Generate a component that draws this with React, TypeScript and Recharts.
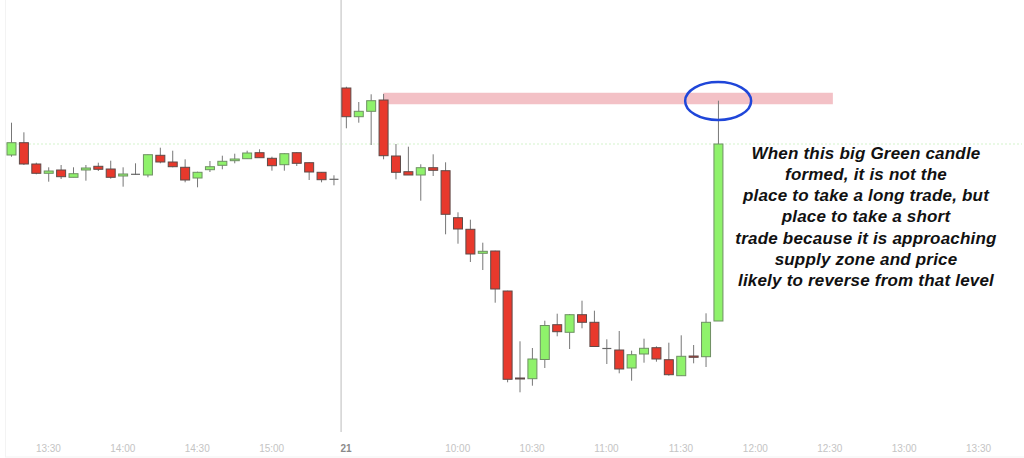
import React from 'react';
import {
  ComposedChart,
  Bar,
  XAxis,
  YAxis,
  ReferenceLine,
  ReferenceArea,
  ReferenceDot,
} from 'recharts';

// 5-minute candles: day 1 (13:15–15:25) then day 21 (09:15–11:45)
const times = [
  '13:15', '13:20', '13:25', '13:30', '13:35', '13:40', '13:45', '13:50', '13:55', '14:00',
  '14:05', '14:10', '14:15', '14:20', '14:25', '14:30', '14:35', '14:40', '14:45', '14:50',
  '14:55', '15:00', '15:05', '15:10', '15:15', '15:20', '15:25',
  '09:15', '09:20', '09:25', '09:30', '09:35', '09:40', '09:45', '09:50', '09:55', '10:00',
  '10:05', '10:10', '10:15', '10:20', '10:25', '10:30', '10:35', '10:40', '10:45', '10:50',
  '10:55', '11:00', '11:05', '11:10', '11:15', '11:20', '11:25', '11:30', '11:35', '11:40',
  '11:45',
];

const opens = [
  277, 289.3, 268, 258.7, 262, 254.7, 262, 265.7, 263, 256,
  257.7, 257, 276.7, 270, 264.7, 254, 262.3, 266.7, 271.3, 273.3,
  279.3, 273.7, 267.3, 279.3, 269.3, 259.7, 252.7,
  344, 315.3, 320.7, 332, 276, 260.3, 257, 264.3, 261.3, 214.3,
  202.7, 178.7, 181, 141, 54, 53.3, 72.5, 107.3, 99.7, 117.3,
  109.7, 83.5, 82, 64, 78, 84.3, 72.3, 56.3, 76, 75.3,
  111,
];
const highs = [
  309.3, 299.7, 269.3, 264.7, 267, 264.7, 267, 269.3, 271.3, 264.7,
  268.7, 277.5, 284.3, 281.3, 272.7, 260.3, 271, 276.3, 278.3, 281.3,
  282.7, 275.3, 278.7, 279.7, 269.7, 260, 256.7,
  345.3, 330, 337.7, 338, 288, 285.3, 267.7, 277.7, 269.7, 219.7,
  212.3, 189.3, 181.3, 141.3, 90.7, 84, 111.3, 118.3, 118, 131.3,
  121.3, 92.7, 101, 81.3, 93.3, 85.7, 89.3, 96.7, 87, 118.7,
  331.3,
];
const lows = [
  275.3, 267, 257.7, 250.3, 253, 254.7, 251.3, 261, 253.3, 245.3,
  257, 254.7, 268.7, 264.7, 249.7, 244.7, 260, 262.7, 268.7, 273.3,
  274.3, 261.3, 261.3, 266, 252, 249.7, 246.7,
  303.7, 309.3, 287, 272.7, 252.7, 257, 231.3, 256, 197.7, 188.3,
  170, 162, 129.3, 49.7, 39.7, 46.3, 64, 95.7, 83, 103.7,
  85.3, 68, 58.7, 51.3, 69.3, 70.3, 56.3, 56.3, 68.7, 65,
  111,
];
const closes = [
  289.3, 268, 258.7, 261, 255.3, 258.3, 264, 262.7, 254.7, 258,
  257.7, 277.3, 270, 265.3, 252, 259.7, 265.3, 270.7, 273, 279,
  274.3, 266.3, 278.3, 268.7, 260, 252.3, 252.7,
  315.3, 320.7, 331.3, 276.3, 259.7, 257, 264.3, 261.7, 217.7, 203,
  178, 180.7, 143, 52.7, 53, 73, 106.5, 100.3, 117.3, 109.7,
  85.5, 83.5, 63, 77.3, 83.7, 73, 57.3, 75.7, 74.7, 109.7,
  288,
];

// x-axis ticks (slot index -> label)
const tickSlots = [3, 9, 15, 21, 27, 36, 42, 48, 54, 60, 66, 72, 78];
const tickLabels = ['13:30', '14:00', '14:30', '15:00', '21', '10:00', '10:30', '11:00', '11:30', '12:00', '12:30', '13:00', '13:30'];
const totalSlots = 82;
const dayBreak = 26.6;

// supply zone & annotation
const zoneFrom = 30;
const zoneTo = 66.25;
const zoneLow = 327.7;
const zoneHigh = 339.3;
const circledCandle = 57;
const circledPrice = 331;

const noteLines = [
  'When this big Green candle',
  'formed, it is not the',
  'place to take a long trade, but',
  'place to take a short',
  'trade because it is approaching',
  'supply zone and price',
  'likely to reverse from that level',
];

const data = times.map((t, i) => ({
  i,
  time: t,
  open: opens[i],
  high: highs[i],
  low: lows[i],
  close: closes[i],
  range: [lows[i], highs[i]],
}));

const lastClose = closes[closes.length - 1];

const RED = '#e8392c';
const GREEN = '#8ff26b';
const W = 1024;
const H = 458;
const MARGIN = { top: 0, right: 2, bottom: 0, left: 5 };

const Candle = (props: any) => {
  const { x, y, width, height, payload } = props;
  if (payload == null || x == null) return null;
  const { open, close, high, low } = payload;
  const top = Math.min(y, y + height);
  const h = Math.abs(height);
  const k = high - low === 0 ? 0 : h / (high - low);
  const yO = top + (high - open) * k;
  const yC = top + (high - close) * k;
  const cx = x + width / 2;
  const bTop = Math.min(yO, yC);
  const bH = Math.abs(yO - yC);
  const up = close > open;
  const flat = open === close;
  const fill = up ? GREEN : RED;
  const stroke = up ? '#6f8f64' : '#5e4a48';
  return (
    <g>
      <line x1={cx} x2={cx} y1={top} y2={top + h} stroke="#777" strokeWidth={1} />
      {flat ? (
        <line x1={x} x2={x + width} y1={yO} y2={yO} stroke="#666" strokeWidth={1.2} />
      ) : (
        <rect x={x} y={bTop} width={width} height={Math.max(bH, 1)} fill={fill} stroke={stroke} strokeWidth={1} />
      )}
    </g>
  );
};

const Tick = (props: any) => {
  const { x, y, payload } = props;
  const idx = tickSlots.indexOf(payload.value);
  const label = idx >= 0 ? tickLabels[idx] : '';
  const isDay = label === '21';
  return (
    <text
      x={x}
      y={y}
      dy={12}
      textAnchor="middle"
      fontSize={10}
      fontFamily="'Liberation Sans', Arial, sans-serif"
      fontWeight={isDay ? 'bold' : 'normal'}
      fill={isDay ? '#8a8a8a' : '#c4c4c4'}
    >
      {label}
    </text>
  );
};

const Ellipse = (props: any) => {
  const { cx, cy } = props;
  if (cx == null || cy == null) return null;
  return <ellipse cx={cx} cy={cy} rx={33} ry={19} fill="none" stroke="#1f46d9" strokeWidth={2.5} />;
};

export default function App() {
  return (
    <div style={{ position: 'absolute', left: 0, top: 0, width: W, height: H, background: '#fff' }}>
      {/* background layer: supply zone, price line, day separator */}
      <div style={{ position: 'absolute', left: 0, top: 0 }}>
        <ComposedChart width={W} height={H} data={data} margin={MARGIN}>
          <XAxis
            dataKey="i"
            type="number"
            domain={[-0.5, totalSlots - 0.5]}
            ticks={tickSlots}
            tick={false}
            tickLine={false}
            axisLine={false}
            height={26}
            allowDataOverflow
          />
          <YAxis hide type="number" domain={[0, 432]} allowDataOverflow />
          <ReferenceArea
            x1={zoneFrom}
            x2={zoneTo}
            y1={zoneLow}
            y2={zoneHigh}
            fill="#f3c1c6"
            fillOpacity={1}
            stroke="none"
            ifOverflow="visible"
          />
          <ReferenceLine y={lastClose} stroke="#d3f3cb" strokeDasharray="2 2" strokeWidth={1} />
          <ReferenceLine x={dayBreak} stroke="#d2d2d2" strokeWidth={1.5} />
        </ComposedChart>
      </div>
      {/* foreground layer: candles, axis labels, circle */}
      <div style={{ position: 'absolute', left: 0, top: 0 }}>
        <ComposedChart width={W} height={H} data={data} margin={MARGIN}>
          <XAxis
            dataKey="i"
            type="number"
            domain={[-0.5, totalSlots - 0.5]}
            ticks={tickSlots}
            interval={0}
            tick={<Tick />}
            tickLine={false}
            axisLine={false}
            height={26}
            allowDataOverflow
          />
          <YAxis hide type="number" domain={[0, 432]} allowDataOverflow />
          <Bar dataKey="range" barSize={9} shape={<Candle />} isAnimationActive={false} />
          <ReferenceDot x={circledCandle} y={circledPrice} shape={<Ellipse />} ifOverflow="visible" />
        </ComposedChart>
      </div>
      <svg
        width={W}
        height={H}
        style={{ position: 'absolute', left: 0, top: 0, pointerEvents: 'none' }}
      >
        <line x1={5.5} x2={5.5} y1={0} y2={457} stroke="#f3f3f3" strokeWidth={1} />
        <line x1={5} x2={W} y1={457} y2={457} stroke="#f3f3f3" strokeWidth={1} />
        {noteLines.map((l, i) => (
          <text
            key={i}
            x={866}
            y={158.5 + i * 21.3}
            textAnchor="middle"
            fontSize={17}
            letterSpacing={0.2}
            fontStyle="italic"
            fontWeight="bold"
            fontFamily="'Liberation Sans', Arial, sans-serif"
            fill="#111"
          >
            {l}
          </text>
        ))}
      </svg>
    </div>
  );
}
